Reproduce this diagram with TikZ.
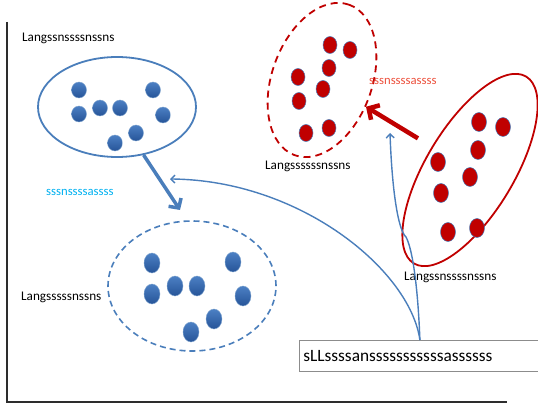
\documentclass[tikz,border=0pt]{standalone}
\usepackage{fontspec}
\setmainfont{Carlito}
\usetikzlibrary{arrows.meta, shapes.geometric}
\definecolor{lineblue}{RGB}{74,126,187}
\definecolor{dotblue}{RGB}{76,128,196}
\definecolor{dotbluedark}{RGB}{38,84,152}
\definecolor{darkred}{RGB}{192,0,0}
\definecolor{labelred}{RGB}{236,80,60}
\definecolor{labelblue}{RGB}{0,176,240}
\definecolor{boxgray}{RGB}{140,140,140}
\definecolor{axisgray}{RGB}{45,45,45}

\begin{document}
\begin{tikzpicture}[
        x=1pt, y=-1pt, inner sep=0pt,
        bluedot/.style={ellipse, top color=dotblue, bottom color=dotbluedark,
            draw=lineblue!70!white, line width=0.4pt},
        reddot/.style={ellipse, fill=darkred, draw=lineblue, line width=0.5pt},
        cluster/.style={ellipse, line width=1.8pt},
        lbl/.style={anchor=west, font=\fontsize{13.2}{15}\selectfont},
        tag/.style={anchor=west, font=\fontsize{12.7}{14}\selectfont},
        thinarrow/.style={draw=lineblue, line width=1.4pt, -{Straight Barb[length=4pt,width=8pt]}},
        ]

        \clip (0,0) rectangle (538,406);

        % axes
        \draw[axisgray, line width=2.2pt] (7,22) -- (7,402) -- (507,402);

        % clusters
        \node[cluster, draw=lineblue, minimum width=158pt, minimum height=100pt] (grp_a) at (117,107) {};
        \node[cluster, draw=lineblue, dash pattern=on 6pt off 4pt, line width=1.6pt,
            minimum width=168pt, minimum height=130pt] (grp_b) at (192,286) {};
        \node[cluster, draw=darkred, dash pattern=on 7pt off 5pt, rotate=70,
            minimum width=160pt, minimum height=100pt] (grp_c) at (322,80) {};
        \node[cluster, draw=darkred, rotate=59,
            minimum width=218pt, minimum height=88pt] (grp_d) at (470,170) {};

        \foreach \x/\y [count=\i] in {79/90, 79/114, 100/108, 120/108, 153/90, 163/115, 136/133, 115/143}
            \node[bluedot, minimum width=15pt, minimum height=16pt] (a_\i) at (\x,\y) {};
        \foreach \x/\y [count=\i] in {152/263, 152/294, 175/286, 197/286, 233/262, 243/296, 214/319, 191/332}
            \node[bluedot, minimum width=16pt, minimum height=20pt] (b_\i) at (\x,\y) {};
        \foreach \x/\y [count=\i] in {330/45, 350/50, 329/68, 298/77, 323/89, 299/101, 306/133, 329/128}
            \node[reddot, minimum width=14pt, minimum height=17pt] (c_\i) at (\x,\y) {};
        \foreach \x/\y [count=\i] in {479/122, 503/127, 478/150, 438/162, 470/177, 441/193, 448/232, 477/228}
            \node[reddot, minimum width=15pt, minimum height=19pt] (d_\i) at (\x,\y) {};

        % labels
        \node[lbl] (lbl_a) at (22,38) {Langssnssssnssns};
        \node[lbl] (lbl_b) at (21,297) {Langsssssnssns};
        \node[lbl] (lbl_c) at (265,166) {Langssssssnssns};
        \node[lbl] (lbl_d) at (404,277) {Langssnssssnssns};
        \node[tag, text=labelblue] (tag_a) at (46,192) {sssnssssassss};
        \node[tag, text=labelred] (tag_c) at (369,81) {sssnssssassss};

        \node[draw=boxgray, line width=0.8pt, anchor=north west, text width=233pt, inner xsep=4pt,
            minimum height=31pt, align=left, font=\fontsize{17.3}{20}\selectfont]
            (box) at (299,340) {sLLssssansssssssssssassssss};

        % arrows
        \coordinate (tip_a) at (180,210);
        \coordinate (tip_b) at (170,179);
        \coordinate (tip_c) at (390,133);

        \draw[draw=lineblue, line width=3.5pt, -{Straight Barb[length=7pt,width=15pt]}] (grp_a.-61) -- (tip_a);
        \draw[draw=darkred, line width=4.5pt, shorten <=16pt, -{Straight Barb[length=8pt,width=17pt]}] (grp_d) -- (grp_c);
        \draw[thinarrow] (box.north) .. controls (410,270) and (300,180) .. (tip_b);
        \draw[thinarrow] (box.north) .. controls (418,290) and (413,250) .. (406,237)
            .. controls (398,230) and (392,190) .. (tip_c);
      \end{tikzpicture}
\end{document}
